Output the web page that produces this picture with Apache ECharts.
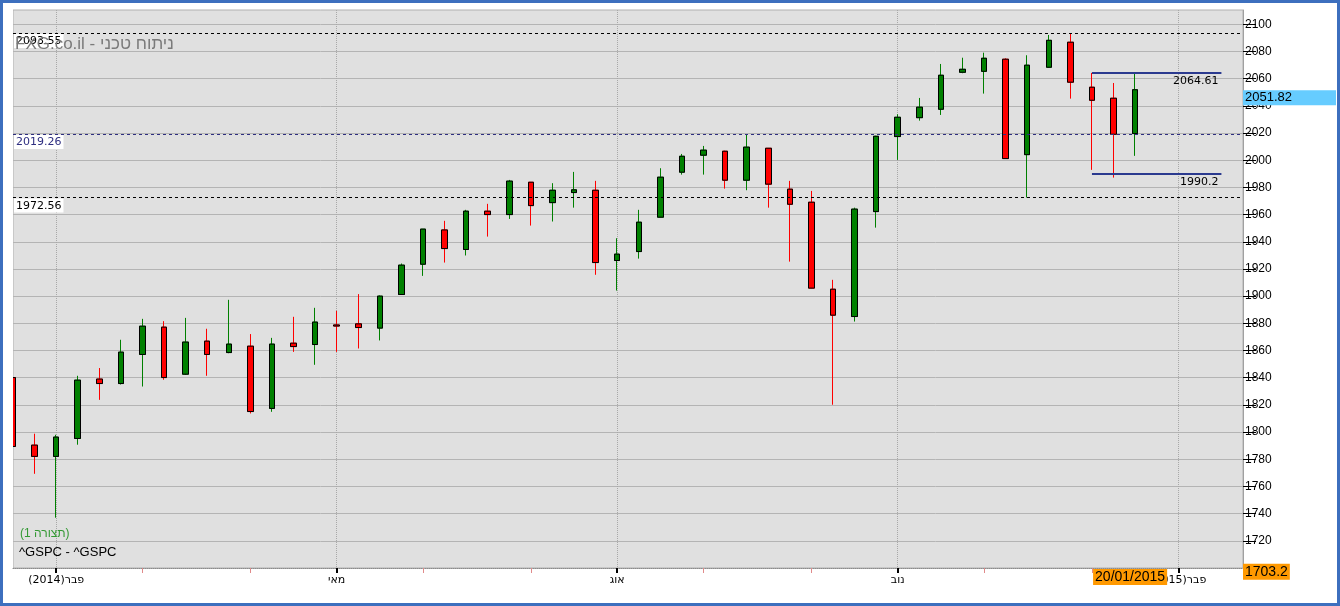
<!DOCTYPE html>
<html>
<head>
<meta charset="utf-8">
<script src="https://cdn.jsdelivr.net/npm/echarts@6/dist/echarts.min.js"></script>
<style>
html,body{margin:0;padding:0;background:#fff;}
#c{position:absolute;left:0;top:0;width:1340px;height:606px;}
#frame{position:absolute;left:0;top:0;width:1334px;height:600px;border:3px solid #3d6fbe;pointer-events:none;}
</style>
</head>
<body>
<div id="c"></div>
<div id="frame"></div>
<script>
// weekly categories (first trading day of each week)
const categories = ['21/01/2014','27/01/2014','03/02/2014','10/02/2014','18/02/2014','24/02/2014','03/03/2014','10/03/2014','17/03/2014','24/03/2014','31/03/2014','07/04/2014','14/04/2014','21/04/2014','28/04/2014','05/05/2014','12/05/2014','19/05/2014','27/05/2014','02/06/2014','09/06/2014','16/06/2014','23/06/2014','30/06/2014','07/07/2014','14/07/2014','21/07/2014','28/07/2014','04/08/2014','11/08/2014','18/08/2014','25/08/2014','02/09/2014','08/09/2014','15/09/2014','22/09/2014','29/09/2014','06/10/2014','13/10/2014','20/10/2014','27/10/2014','03/11/2014','10/11/2014','17/11/2014','24/11/2014','01/12/2014','08/12/2014','15/12/2014','22/12/2014','29/12/2014','05/01/2015','12/01/2015','20/01/2015','26/01/2015','02/02/2015','09/02/2015','17/02/2015','23/02/2015'];

const openV  = [1840.1,1790.4,1782.1,1795.3,1839.0,1835.7,1857.1,1877.2,1842.6,1866.9,1858.5,1863.2,1817.4,1865.4,1864.4,1878.8,1879.6,1876.5,1901.2,1923.5,1948.7,1934.3,1962.5,1960.0,1983.8,1968.8,1976.2,1977.9,1926.2,1932.8,1958.1,1991.2,2003.7,2006.6,1985.3,2008.8,1978.7,1969.1,1905.1,1885.0,1962.2,2017.4,2031.3,2037.5,2064.7,2065.4,2074.3,2004.1,2068.4,2086.8,2053.7,2045.6,2019.6];
const closeV = [1789.4,1782.1,1796.3,1838.2,1835.7,1858.8,1877.9,1840.1,1866.2,1857.1,1864.7,1815.1,1864.7,1862.9,1880.9,1878.0,1876.9,1900.0,1922.8,1949.3,1935.0,1962.5,1960.0,1984.6,1966.6,1977.9,1978.2,1924.7,1930.9,1954.4,1987.5,2002.9,2007.4,1985.3,2009.6,1982.4,1967.6,1905.9,1886.0,1964.0,2017.6,2031.6,2039.0,2062.5,2066.9,2075.0,2001.2,2069.9,2088.2,2057.4,2044.1,2019.1,2051.82];
const lowV   = [1788.5,1769.3,1737.0,1790.7,1823.7,1835.0,1833.5,1838.5,1842.0,1841.4,1858.0,1813.7,1814.9,1859.0,1849.5,1859.0,1861.5,1867.4,1901.0,1914.9,1924.7,1929.9,1943.8,1956.8,1951.9,1954.9,1965.1,1915.7,1904.1,1927.6,1958.0,1989.4,1989.4,1979.1,1977.9,1965.1,1925.4,1905.8,1820.1,1881.3,1950.4,2000.2,2029.1,2033.3,2064.0,2049.0,2001.0,1972.56,2068.0,2045.3,1992.9,1987.2,2003.2];
const highV  = [1841.0,1798.8,1798.0,1841.4,1847.1,1867.9,1883.3,1881.6,1884.0,1876.0,1897.3,1872.1,1869.3,1884.8,1891.4,1889.2,1901.5,1900.5,1924.0,1949.4,1955.4,1963.5,1967.9,1985.5,1984.0,1983.1,1991.4,1984.8,1942.6,1963.5,1994.1,2004.6,2010.5,2007.0,2019.26,2009.0,1984.8,1977.4,1912.0,1965.1,2018.0,2033.8,2045.8,2070.8,2075.4,2079.1,2075.0,2077.2,2092.1,2093.55,2064.2,2056.8,2064.61];

// axis tick labels
const majorDates = ['03/02/2014','05/05/2014','04/08/2014','03/11/2014','02/02/2015'];
const majorTexts = ['(2014)פבר','מאי','אוג','נוב','(2015)פבר'];
const minorDates = ['03/03/2014','07/04/2014','02/06/2014','07/07/2014','02/09/2014','06/10/2014','01/12/2014','05/01/2015'];
const yTicks = [1720,1740,1760,1780,1800,1820,1840,1860,1880,1900,1920,1940,1960,1980,2000,2020,2040,2060,2080,2100];

// level lines
const dashedLevels = [2093.55, 2019.26, 1972.56];
const dashedColors = ['#000000', '#2e2e80', '#000000'];
const rangeLevels = [2064.61, 1990.2];
const rangeStart = '05/01/2015', rangeEnd = '17/02/2015';
const lastPrice = 2051.82;
const cursorDate = '20/01/2015';
const cursorValue = 1703.2;

const wickData = openV.map((o, i) => [o, closeV[i], lowV[i], highV[i]]);
const bodyData = openV.map((o, i) => [o, closeV[i], Math.min(o, closeV[i]), Math.max(o, closeV[i])]);

const isMajor = (i, v) => majorDates.indexOf(v) >= 0;
const isMinor = (i, v) => minorDates.indexOf(v) >= 0;

const numFont = 'DejaVu Sans';
const hidden = {color: 'rgba(0,0,0,0)', width: 0, type: 'solid'};

const markData = [];
dashedLevels.forEach((v, k) => {
  markData.push({
    yAxis: v,
    lineStyle: {color: dashedColors[k], type: [3, 3], width: 1},
    label: {show: true, position: 'insideStartBottom', formatter: String(v), distance: 1,
      backgroundColor: '#ffffff', color: dashedColors[k], fontFamily: numFont, fontSize: 11,
      padding: [2, 2, 1, 2]}
  });
});
rangeLevels.forEach(v => {
  markData.push([
    {coord: [rangeStart, v], lineStyle: {color: '#2b3a8f', type: 'solid', width: 2},
     label: {show: true, position: 'insideEndBottom', formatter: String(v), distance: 3,
       color: '#000', fontFamily: numFont, fontSize: 11}},
    {coord: [rangeEnd, v]}
  ]);
});
markData.push({
  yAxis: lastPrice,
  lineStyle: hidden,
  label: {show: true, position: 'end', formatter: String(lastPrice), distance: 0, offset: [0, 8],
    backgroundColor: '#66ccff', color: '#000', fontFamily: 'Liberation Sans', fontSize: 13,
    width: 89, padding: [1, 2, 1, 2], lineHeight: 13}
});
markData.push({
  yAxis: cursorValue,
  lineStyle: hidden,
  label: {show: true, position: 'end', formatter: String(cursorValue), distance: 0, offset: [0, 8],
    backgroundColor: '#ff9900', color: '#000', fontFamily: 'Liberation Sans', fontSize: 14,
    padding: [1, 2, 1, 2], lineHeight: 14}
});
markData.push({
  xAxis: cursorDate,
  lineStyle: hidden,
  label: {show: true, position: 'start', formatter: cursorDate, distance: 1, offset: [-5, 0],
    backgroundColor: '#ff9900', color: '#000', fontFamily: 'Liberation Sans', fontSize: 14,
    padding: [1, 2, 1, 2], lineHeight: 14}
});

const chart = echarts.init(document.getElementById('c'), null, {renderer: 'canvas'});
chart.setOption({
  animation: false,
  backgroundColor: '#ffffff',
  grid: {left: 13, right: 97, top: 10, bottom: 38, show: true, backgroundColor: '#e0e0e0',
    borderColor: '#b0b0b0', borderWidth: 1},
  xAxis: [{
    type: 'category', data: categories, boundaryGap: false, position: 'bottom',
    axisLine: {show: true, lineStyle: {color: '#8c8c8c', type: 'dotted'}},
    axisTick: {show: true, interval: isMajor, length: 5, lineStyle: {color: '#000', width: 2}},
    axisLabel: {show: true, interval: isMajor, margin: 7, fontFamily: numFont, fontSize: 11, color: '#000',
      formatter: v => majorTexts[majorDates.indexOf(v)] || ''},
    splitLine: {show: true, interval: isMajor, lineStyle: {color: '#a8a8a8', type: 'dotted', width: 1}}
  }, {
    type: 'category', data: categories, boundaryGap: false, position: 'bottom',
    axisLine: {show: false},
    axisTick: {show: true, interval: isMinor, length: 5, lineStyle: {color: '#e08a8a', width: 1}},
    axisLabel: {show: false},
    splitLine: {show: false}
  }],
  yAxis: {
    type: 'value', position: 'right', min: 1700, max: 2110.5, interval: 20, scale: true,
    axisLine: {show: true, lineStyle: {color: '#a0a0a0'}},
    axisTick: {show: true, length: 13, customValues: yTicks, lineStyle: {color: '#000'}},
    axisLabel: {show: true, customValues: yTicks, margin: 2, fontFamily: 'Liberation Sans', fontSize: 12, color: '#000',
      formatter: v => String(v)},
    splitLine: {show: true, lineStyle: {color: '#b4b4b4', width: 1}}
  },
  graphic: [
    {type: 'rect', left: 3, top: 10, zlevel: 1, silent: true,
     shape: {width: 10, height: 558}, style: {fill: '#ffffff'}},
    {type: 'text', left: 15, top: 36, zlevel: 1, silent: true,
     style: {text: 'FXG.co.il - ניתוח טכני', fontFamily: 'Liberation Sans', fontSize: 17, fill: '#7a7a7a'}},
    {type: 'text', left: 20, top: 528, zlevel: 1, silent: true,
     style: {text: '(1 תצורה)', fontFamily: 'Liberation Sans', fontSize: 12, fill: '#339933'}},
    {type: 'text', left: 19, top: 546, zlevel: 1, silent: true,
     style: {text: '^GSPC - ^GSPC', fontFamily: 'Liberation Sans', fontSize: 13, fill: '#000'}}
  ],
  series: [{
    name: 'wick', type: 'candlestick', data: wickData, barWidth: 6, clip: true,
    itemStyle: {color: '#008000', color0: '#ff0000', borderColor: '#008000', borderColor0: '#ff0000', borderWidth: 1}
  }, {
    name: 'body', type: 'candlestick', data: bodyData, barWidth: 6, clip: true,
    itemStyle: {color: '#008000', color0: '#ff0000', borderColor: '#000000', borderColor0: '#000000', borderWidth: 1}
  }, {
    name: 'levels', type: 'line', data: [], clip: false, silent: true,
    markLine: {symbol: 'none', silent: true, animation: false, data: markData}
  }]
});
</script>
</body>
</html>
